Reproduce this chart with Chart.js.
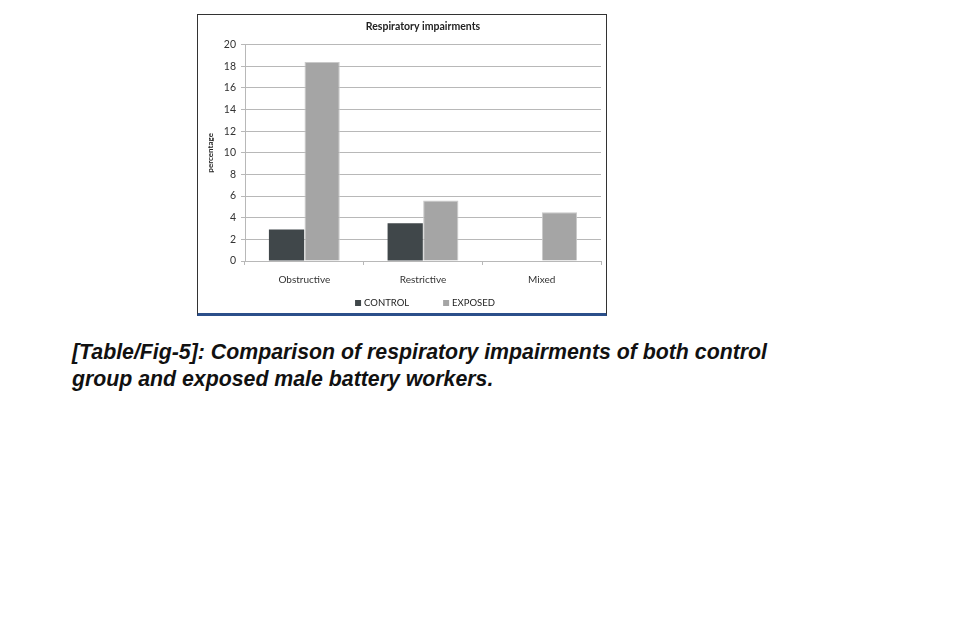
<!DOCTYPE html>
<html>
<head>
<meta charset="utf-8">
<script src="https://cdn.jsdelivr.net/npm/chart.js@4.4.0/dist/chart.umd.min.js"></script>
<style>
    body { margin: 0; background: #fff; width: 957px; height: 641px; position: relative; overflow: hidden; }
    #box {
        position: absolute; left: 197px; top: 14px; width: 408px; height: 298px;
        border-left: 1px solid #333; border-top: 1px solid #333; border-right: 1px solid #333;
        border-bottom: 3px solid #2b4f8a; background: #fff;
    }
    #caption {
        position: absolute; left: 72px; top: 339px; margin: 0;
        font-family: "Liberation Sans", Arial, sans-serif; font-weight: bold; font-style: italic;
        font-size: 21.3px; line-height: 27px; color: #111;
    }
</style>
</head>
<body>
<div id="box"><canvas id="impairChart" width="408" height="298"></canvas></div>
<p id="caption">[Table/Fig-5]: Comparison of respiratory impairments of both control<br>group and exposed male battery workers.</p>
<script>
// chart data
const categories = ['Obstructive', 'Restrictive', 'Mixed'];
const controlValues = [2.9, 3.5, 0];
const exposedValues = [18.4, 5.6, 4.5];
const yTicks = [0, 2, 4, 6, 8, 10, 12, 14, 16, 18, 20];

const fontFamily = 'Lato, "Open Sans", sans-serif';

// legend drawn under the axis labels, wide gap between the two entries
const bottomLegend = {
    id: 'bottomLegend',
    afterDraw(chart) {
        const c = chart.ctx;
        const sets = chart.data.datasets;
        const gap = 34;
        c.save();
        c.font = '9.5px ' + fontFamily;
        c.textBaseline = 'middle';
        const widths = sets.map(ds => 9 + c.measureText(ds.label).width);
        const total = widths.reduce((a, b) => a + b, 0) + gap * (sets.length - 1);
        let x = (chart.chartArea.left + chart.chartArea.right) / 2 - total / 2 + 2;
        const y = chart.height - 10;
        sets.forEach((ds, i) => {
            c.fillStyle = ds.backgroundColor;
            c.fillRect(x, y - 3, 6, 6);
            c.fillStyle = '#222';
            c.fillText(ds.label, x + 9, y);
            x += widths[i] + gap;
        });
        c.restore();
    }
};

const ctx = document.getElementById('impairChart').getContext('2d');
new Chart(ctx, {
    type: 'bar',
    data: {
        labels: categories,
        datasets: [{
            label: 'CONTROL',
            data: controlValues,
            backgroundColor: '#40474a',
            borderWidth: 0
        }, {
            label: 'EXPOSED',
            data: exposedValues,
            backgroundColor: '#a5a5a5',
            borderColor: '#c9c9c9',
            borderWidth: 1
        }]
    },
    plugins: [bottomLegend],
    options: {
        responsive: false,
        animation: false,
        devicePixelRatio: 1,
        layout: { padding: { left: 8, right: 5, top: 0, bottom: 22 } },
        datasets: {
            bar: { categoryPercentage: 0.6, barPercentage: 0.99 }
        },
        plugins: {
            title: {
                display: true,
                fullSize: false,
                text: 'Respiratory impairments',
                color: '#222',
                font: { family: fontFamily, size: 10.5, weight: 'bold' },
                padding: { top: 5, bottom: 12 }
            },
            legend: { display: false },
            tooltip: { enabled: false }
        },
        scales: {
            y: {
                min: 0,
                max: 20,
                afterBuildTicks: (scale) => {
                    scale.ticks = yTicks.map(v => ({ value: v }));
                },
                afterFit: (scale) => { scale.width = 39; },
                grid: { color: '#b8b8b8', lineWidth: 1, tickLength: 4 },
                border: { color: '#b8b8b8' },
                ticks: {
                    color: '#333',
                    font: { family: fontFamily, size: 10.5 },
                    padding: 5
                },
                title: {
                    display: true,
                    text: 'percentage',
                    color: '#222',
                    font: { family: fontFamily, size: 8, weight: 'bold' },
                    padding: 0
                }
            },
            x: {
                afterFit: (scale) => { scale.height = 30; },
                grid: { drawOnChartArea: false, color: '#b8b8b8', tickLength: 4, offset: true },
                border: { color: '#b8b8b8' },
                ticks: {
                    color: '#333',
                    font: { family: fontFamily, size: 10 },
                    padding: 9
                }
            }
        }
    }
});
</script>
</body>
</html>
